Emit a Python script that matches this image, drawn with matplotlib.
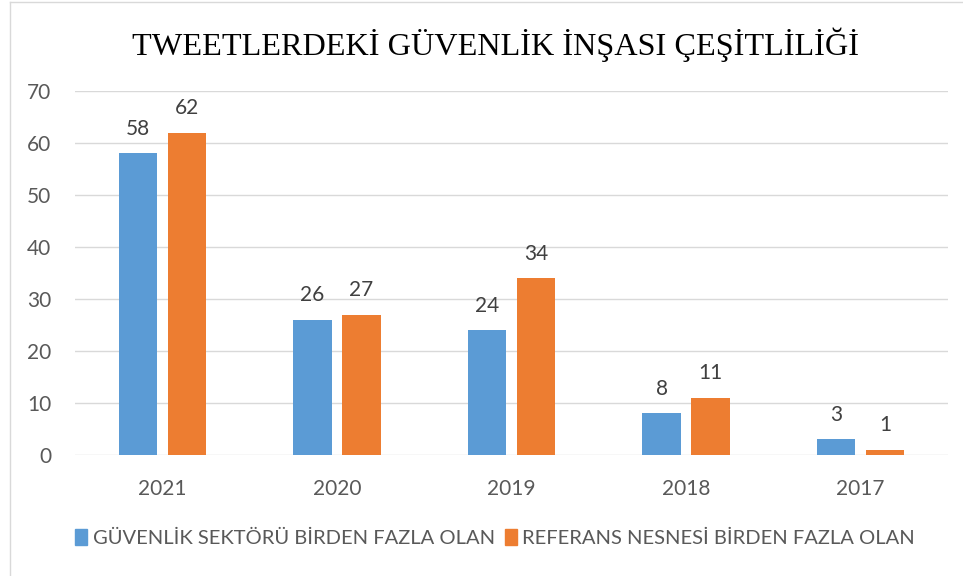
import matplotlib
matplotlib.use("Agg")
import matplotlib.pyplot as plt
from matplotlib.lines import Line2D
from matplotlib.patches import Patch
import numpy as np

years = ["2021", "2020", "2019", "2018", "2017"]
guvenlik = [58, 26, 24, 8, 3]
referans = [62, 27, 34, 11, 1]
series_names = ["GÜVENLİK SEKTÖRÜ BİRDEN FAZLA OLAN", "REFERANS NESNESİ BİRDEN FAZLA OLAN"]
title = "TWEETLERDEKİ GÜVENLİK İNŞASI ÇEŞİTLİLİĞİ"
yticks = [0, 10, 20, 30, 40, 50, 60, 70]

blue = "#5B9BD5"
orange = "#ED7D31"
tick_color = "#595959"
label_color = "#404040"
sans = ["Lato", "DejaVu Sans"]

fig = plt.figure(figsize=(9.63, 5.76), dpi=100)
ax = fig.add_axes([75/963, 1-455/576, 873/963, 364/576])

x = np.arange(len(years))
w = 0.22
off = 0.14
b1 = ax.bar(x - off, guvenlik, w, color=blue, zorder=3)
b2 = ax.bar(x + off, referans, w, color=orange, zorder=3)

for bars, vals in ((b1, guvenlik), (b2, referans)):
    for r, v in zip(bars, vals):
        ax.annotate(str(v), (r.get_x() + r.get_width()/2, r.get_height()),
                    xytext=(0, 10.5), textcoords="offset points", ha="center", va="bottom",
                    fontsize=15, color=label_color, family=sans)

ax.set_xlim(-0.5, len(years) - 0.5)
ax.set_ylim(0, 70)
ax.set_yticks(yticks)
ax.set_yticklabels([str(t) for t in yticks], family=sans, fontsize=15, color=tick_color)
ax.set_xticks(x)
ax.set_xticklabels(years, family=sans, fontsize=15, color=tick_color)
ax.tick_params(axis="both", length=0)
ax.tick_params(axis="y", pad=17)
ax.tick_params(axis="x", pad=17)
ax.grid(axis="y", color="#D9D9D9", linewidth=1, zorder=0)
for s in ax.spines.values():
    s.set_visible(False)

fig.text(495/963, 1-45/576, title, ha="center", va="center", fontsize=23.2,
         family=["Liberation Serif", "DejaVu Serif"], color="black")

handles = [Patch(color=blue), Patch(color=orange)]
leg = fig.legend(handles, series_names, loc="center", bbox_to_anchor=(495/963, 1-538/576),
                 ncol=2, frameon=False, handlelength=0.6, handleheight=0.8,
                 handletextpad=0.25, columnspacing=0.5,
                 prop={"family": sans, "size": 14.5})
for t in leg.get_texts():
    t.set_color(tick_color)

fig.add_artist(Line2D([10/963, 10/963], [0, 1-2/576], transform=fig.transFigure, color="#D9D9D9", lw=1))
fig.add_artist(Line2D([10/963, 1], [1-2/576, 1-2/576], transform=fig.transFigure, color="#D9D9D9", lw=1))

fig.savefig("out.png", dpi=100)
